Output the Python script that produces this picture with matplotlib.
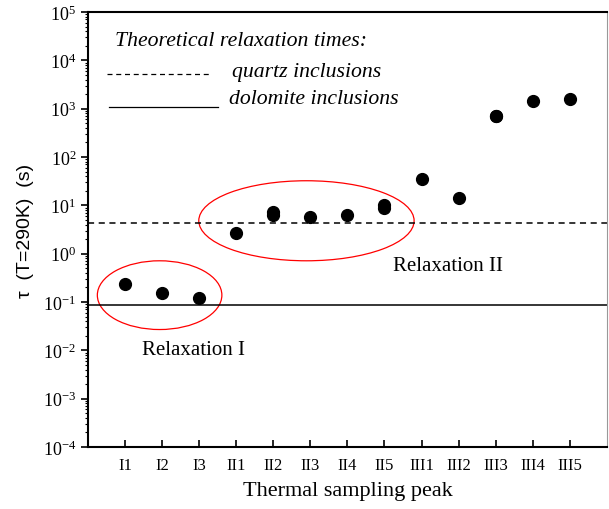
import matplotlib.pyplot as plt
from matplotlib.patches import Ellipse
import numpy as np

# peaks and relaxation times
peaks = ['I1', 'I2', 'I3', 'II1', 'II2', 'II3', 'II4', 'II5',
         'III1', 'III2', 'III3', 'III4', 'III5']
tau = [0.24, 0.155, 0.12, 2.7, 6.4, 5.8, 6.2, 9.0, 35, 14, 690, 1450, 1550]
# a few points sit almost on top of others
extra_pos = [5, 8, 11]
extra_tau = [7.3, 10.3, 700]

tau_quartz = 4.4
tau_dolomite = 0.088

plt.rcParams['font.family'] = ['Liberation Serif', 'DejaVu Serif']
plt.rcParams['mathtext.fontset'] = 'stix'

fig = plt.figure(figsize=(6.09, 5.10), dpi=100)
ax = fig.add_axes([0.1445, 0.1216, 0.852, 0.853])

x = np.arange(1, len(peaks) + 1)
ax.plot(x, tau, 'o', color='black', markersize=8.5)
ax.plot(extra_pos, extra_tau, 'o', color='black', markersize=8.5)

ax.axhline(tau_quartz, color='black', linestyle=(0, (4, 3)), linewidth=1.1)
ax.axhline(tau_dolomite, color='black', linewidth=1.1)

ax.set_yscale('log')
ax.set_ylim(1e-4, 1e5)
ax.set_xlim(0, 14)
ax.set_xticks(x)
ax.set_xticklabels(peaks, fontsize=12)
ax.tick_params(axis='x', direction='in', length=5, width=1.2, pad=7)
ax.tick_params(axis='y', which='major', direction='out', length=5, width=1.2, labelsize=13)
ax.tick_params(axis='y', which='minor', direction='out', length=2.5, width=0.8)
ax.set_yticks([10.0 ** k for k in range(-4, 6)])

for s in ['left', 'bottom', 'top']:
    ax.spines[s].set_linewidth(1.5)
ax.spines['right'].set_color('#999999')
ax.spines['right'].set_linewidth(0.8)

ax.set_xlabel('Thermal sampling peak', fontsize=16, labelpad=6)
ax.set_ylabel('τ  (T=290K)  (s)', fontsize=14, labelpad=6,
              family=['Liberation Sans', 'DejaVu Sans'])

# ellipses around the two relaxation groups
ax.add_patch(Ellipse((0.138, 0.349), 0.240, 0.158, transform=ax.transAxes,
                     fill=False, edgecolor='red', linewidth=0.9))
ax.add_patch(Ellipse((0.421, 0.520), 0.415, 0.184, transform=ax.transAxes,
                     fill=False, edgecolor='red', linewidth=0.9))
ax.text(0.204, 0.225, 'Relaxation I', transform=ax.transAxes, fontsize=15,
        ha='center', va='center')
ax.text(0.694, 0.418, 'Relaxation II', transform=ax.transAxes, fontsize=15,
        ha='center', va='center')

# hand-made legend
ax.text(0.052, 0.935, 'Theoretical relaxation times:', transform=ax.transAxes,
        fontsize=15.7, style='italic', va='center')
ax.plot([0.037, 0.238], [0.858, 0.858], transform=ax.transAxes, color='black',
        linestyle=(0, (4, 3)), linewidth=0.9)
ax.text(0.277, 0.863, 'quartz inclusions', transform=ax.transAxes,
        fontsize=15.7, style='italic', va='center')
ax.plot([0.041, 0.250], [0.782, 0.782], transform=ax.transAxes, color='black',
        linewidth=0.9)
ax.text(0.271, 0.800, 'dolomite inclusions', transform=ax.transAxes,
        fontsize=15.7, style='italic', va='center')

plt.savefig('out.png', dpi=100)
